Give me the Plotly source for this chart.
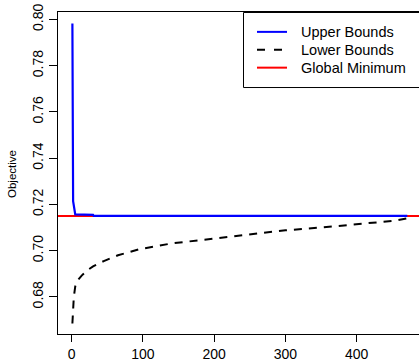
import plotly.graph_objects as go

# ---- data ----
upper_x = [1, 2, 5, 30, 31, 471]
upper_y = [0.7983, 0.7214, 0.7157, 0.7155, 0.7150, 0.7150]

lower_x = [1, 2, 3, 5, 8, 14, 22, 30, 45, 65, 95, 140, 200, 260, 300, 350, 390, 430, 455, 471]
lower_y = [0.6685, 0.6760, 0.6800, 0.6845, 0.6870, 0.6892, 0.6915, 0.6932, 0.6955, 0.6980,
           0.7006, 0.7031, 0.7053, 0.7073, 0.7088, 0.7100, 0.7111, 0.7122, 0.7130, 0.7140]

global_min = 0.7150

x_ticks = [0, 100, 200, 300, 400]
y_ticks = [0.68, 0.70, 0.72, 0.74, 0.76, 0.78, 0.80]

legend_labels = ["Upper Bounds", "Lower Bounds", "Global Minimum"]
legend_colors = ["#0000FF", "#000000", "#FF0000"]
legend_dash = ["solid", "8px,9px", "solid"]

W, H = 419, 362
ML, MT, MB, MR = 58, 12, 26, 0
PW = W - ML - MR
PH = H - MT - MB

FONT = "Liberation Sans, Arial, Helvetica, sans-serif"

fig = go.Figure()

fig.add_trace(go.Scatter(x=lower_x, y=lower_y, mode="lines",
                         line=dict(color="#000000", width=2, dash="8px,7px"),
                         name=legend_labels[1], showlegend=False))
fig.add_trace(go.Scatter(x=upper_x, y=upper_y, mode="lines",
                         line=dict(color="#0000FF", width=2.2),
                         name=legend_labels[0], showlegend=False))

fig.add_hline(y=global_min, line=dict(color="#FF0000", width=2), layer="below")

# manual legend (R style box at top right)
def px_x(p):
    return (p - ML) / PW

def px_y(p):
    return 1 - (p - MT) / PH

fig.add_shape(type="rect", xref="paper", yref="paper",
              x0=px_x(243.5), x1=px_x(430), y0=px_y(88), y1=px_y(12.5),
              line=dict(color="#000000", width=1), fillcolor="white", layer="above")
rows = [32, 50, 68]
for lab, col, dsh, ry in zip(legend_labels, legend_colors, legend_dash, rows):
    fig.add_shape(type="line", xref="paper", yref="paper",
                  x0=px_x(257), x1=px_x(287), y0=px_y(ry), y1=px_y(ry),
                  line=dict(color=col, width=2, dash=dsh), layer="above")
    fig.add_annotation(xref="paper", yref="paper", x=px_x(299), y=px_y(ry),
                       text=lab, showarrow=False, xanchor="left", yanchor="middle",
                       font=dict(family=FONT, size=14.5, color="#000000"))

fig.add_annotation(xref="paper", yref="paper", x=px_x(12), y=px_y(175),
                   text="Objective", textangle=-90, showarrow=False,
                   xanchor="center", yanchor="middle",
                   font=dict(family=FONT, size=11.5, color="#000000"))

fig.update_layout(
    width=W, height=H,
    margin=dict(l=ML, r=MR, t=MT, b=MB, pad=0),
    paper_bgcolor="white", plot_bgcolor="white",
    showlegend=False,
    font=dict(family=FONT, size=14, color="#000000"),
)
fig.update_xaxes(range=[-19.2, 487.4], tickvals=x_ticks, ticks="outside", ticklen=7,
                 tickcolor="black", showline=True, linecolor="black", linewidth=1,
                 mirror=True, showgrid=False, zeroline=False,
                 tickfont=dict(family=FONT, size=14))
fig.update_yaxes(range=[0.66394, 0.80323], tickvals=y_ticks, tickformat=".2f",
                 ticks="outside", ticklen=8, tickcolor="black", tickangle=-90,
                 showline=True, linecolor="black", linewidth=1, mirror=False,
                 showgrid=False, zeroline=False,
                 tickfont=dict(family=FONT, size=14))

fig.write_html("out.html")
